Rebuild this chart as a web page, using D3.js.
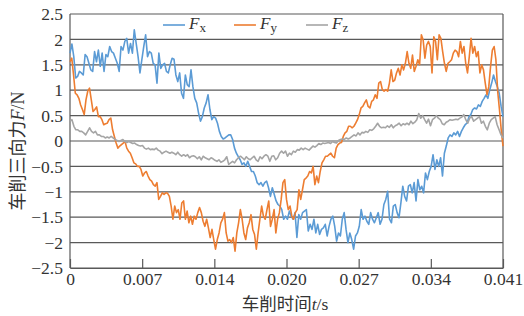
<!DOCTYPE html>
<html>
<head>
<meta charset="utf-8">
<script src="https://cdn.jsdelivr.net/npm/d3@7"></script>
<style>
  body { margin: 0; background: #fff; }
  svg { display: block; }
</style>
</head>
<body>
<svg id="chart" width="524" height="316"></svg>
<script>
// cutting time span (s) and axis ticks
const tMax = 0.041;
const yTicks = [-2.5, -2, -1.5, -1, -0.5, 0, 0.5, 1, 1.5, 2, 2.5];
const xTickLabels = ["0", "0.007", "0.014", "0.020", "0.027", "0.034", "0.041"];

const seriesNames = ["x", "y", "z"];
const seriesColors = ["#5b9bd5", "#ed7d31", "#a5a5a5"];

// three-direction cutting force (N), sampled evenly over 0..tMax
const fx = [
  1.73, 1.91, 1.66, 1.24, 1.27, 1.37, 1.34, 1.30, 1.70, 1.66, 1.53, 1.40, 1.37, 1.76, 1.56, 1.79, 1.47, 1.73, 1.37, 1.70,
  1.66, 1.86, 1.76, 1.73, 1.63, 1.53, 1.37, 1.86, 1.79, 1.96, 2.02, 1.73, 1.92, 1.73, 2.19, 1.92, 1.66, 1.34, 1.60, 1.86,
  2.09, 1.66, 1.76, 1.73, 1.53, 1.50, 1.14, 1.73, 1.43, 1.50, 1.53, 1.37, 1.34, 1.50, 1.63,
  1.61, 1.30, 1.17, 1.34, 0.94, 0.84, 1.30, 1.11, 1.07, 1.40, 1.07, 0.84, 0.75, 0.55, 0.39, 0.48, 0.65, 0.75, 0.91, 0.62,
  0.42, 0.48, 0.45, 0.35, 0.19, 0.09, 0.04, 0.06, 0.09, 0.12, 0.12, 0.03, -0.14, -0.24, -0.31, -0.37, -0.46, -0.43, -0.50, -0.40,
  -0.50, -0.60, -0.60, -0.69, -0.82, -0.86, -0.82, -0.89, -0.82, -0.79, -0.92, -1.09, -0.92, -1.05, -1.18, -1.25,
  -1.28, -1.35, -1.54, -1.48, -1.54, -1.38, -1.48, -1.54, -1.41, -1.90, -1.45, -1.54, -1.41, -1.38, -1.35, -1.77, -1.64, -1.74, -1.54, -1.81,
  -1.64, -1.84, -1.74, -1.71, -1.64, -1.87, -1.68, -1.54, -1.48, -1.68, -1.97, -1.81, -1.87, -1.54, -1.41, -1.74, -2.00, -1.81, -1.94, -2.13,
  -1.87, -1.81, -1.68, -1.35, -1.54, -1.48, -1.58, -1.64, -1.41, -1.54, -1.61, -1.51, -1.41, -1.64, -1.54, -1.25, -1.15,
  -0.99, -1.54, -1.61, -1.28, -1.25, -1.41, -1.51, -1.22, -0.89, -1.09, -1.18, -0.89, -0.86, -1.02, -0.82, -1.18, -0.76, -0.96, -0.89, -1.02,
  -0.63, -0.76, -0.60, -0.50, -0.27, -0.56, -0.37, -0.50, -0.33, -0.69, -0.24, -0.10, 0.06, 0.12, 0.09, 0.16, 0.12, 0.19, 0.09, 0.19,
  0.26, 0.32, 0.35, 0.48, 0.52, 0.62, 0.65, 0.63, 0.71, 0.68, 0.78, 0.84, 0.91, 0.84, 1.01, 1.14, 1.30, 1.17, 1.07, 0.94,
  0.68, 0.48
];
const fy = [
  1.56, 1.63, 1.30, 0.94, 0.91, 0.84, 0.71, 0.62, 0.52, 0.81, 0.98, 1.04, 0.81, 0.58, 0.62, 0.67, 0.48, 0.48, 0.42, 0.32,
  0.34, 0.35, 0.42, 0.45, 0.22, 0.09, -0.04, -0.14, -0.10, -0.07, -0.04, -0.01, -0.14, -0.20, -0.24, -0.33, -0.43, -0.45, -0.50, -0.50,
  -0.56, -0.69, -0.63, -0.60, -0.69, -0.76, -0.79, -0.86, -0.89, -0.82, -1.15, -1.09, -1.02, -1.05, -1.02, -1.03, -1.09, -1.28, -1.54,
  -1.28, -1.41, -1.35, -1.54, -1.22, -1.18, -1.54, -1.38, -1.61, -1.48, -1.64, -1.48, -1.54, -1.41, -1.31, -1.41, -1.58, -1.68, -1.54, -1.71,
  -1.90, -1.74, -1.94, -2.13, -1.94, -1.81, -1.61, -1.54, -1.41, -1.81, -1.97, -1.94, -2.00, -1.90, -2.17, -1.81, -1.61, -1.35, -1.54, -1.81,
  -1.94, -1.71, -1.61, -1.45, -1.74, -1.84, -2.13, -1.81, -1.54, -1.28, -1.48, -1.54, -1.35, -1.18, -1.68, -1.54, -1.35, -1.81, -1.54, -1.41,
  -1.15,
  -0.82, -0.76, -1.15, -1.35, -1.28, -1.48, -1.54, -1.41, -1.35, -0.96, -1.15, -0.96, -0.76, -0.73, -0.69, -0.60, -0.63, -0.50, -0.86, -0.69,
  -0.82, -0.60, -0.43, -0.37, -0.30, -0.30, -0.27, -0.24, -0.30, -0.33, -0.14, -0.07, -0.04, -0.03, 0.09, 0.16, 0.19, 0.29, 0.29, 0.26,
  0.29, 0.35, 0.42, 0.52, 0.65, 0.68, 0.75, 0.81, 0.68, 0.65, 0.78, 0.81, 0.91, 0.84, 1.14, 1.17, 1.01, 0.98, 1.01,
  0.98, 1.14, 1.40, 1.17, 1.20, 1.34, 1.43, 1.30, 1.50, 1.40, 1.53, 1.76, 1.53, 1.43, 1.69, 1.37, 1.47, 1.60, 1.50, 2.09,
  1.99, 1.63, 1.89, 1.96, 1.86, 1.34, 2.05, 1.96, 1.60, 2.09, 2.02, 1.76, 1.53, 1.37, 1.53, 1.56, 1.60, 1.73, 1.79, 1.76,
  1.66, 1.96, 1.73, 1.86, 1.53, 1.34, 1.66, 2.02, 1.73, 1.86, 1.66, 1.76, 1.34, 1.50, 1.40, 1.14, 0.91, 1.07, 1.47, 1.79,
  1.86, 1.60, 0.98, 0.62, 0.22, -0.10
];
const fz = [
  0.39, 0.42, 0.29, 0.22, 0.22, 0.19, 0.19, 0.16, 0.12, 0.19, 0.26, 0.19, 0.16, 0.19, 0.12, 0.12, 0.09, 0.09, 0.06, 0.08,
  0.06, 0.09, 0.06, 0.03, 0.01, -0.01, 0.01, 0.03, -0.01, -0.03, -0.01, -0.03, -0.05, -0.04, -0.07, -0.09, -0.10, -0.09, -0.14, -0.16,
  -0.14, -0.17, -0.16, -0.17, -0.14, -0.18, -0.20, -0.25, -0.22, -0.20, -0.22, -0.24, -0.22, -0.24, -0.27,
  -0.22, -0.27, -0.30, -0.27, -0.30, -0.27, -0.33, -0.30, -0.29, -0.31, -0.35, -0.31, -0.37, -0.30, -0.33, -0.35, -0.37, -0.33, -0.35, -0.38,
  -0.40, -0.37, -0.42, -0.40, -0.37, -0.31, -0.46, -0.43, -0.40, -0.43, -0.37, -0.33, -0.30, -0.33, -0.37, -0.31, -0.35, -0.37, -0.33, -0.30,
  -0.37, -0.40, -0.31, -0.35, -0.30, -0.27, -0.30, -0.40, -0.30, -0.29, -0.37, -0.33,
  -0.24, -0.20, -0.24, -0.20, -0.30, -0.24, -0.27, -0.20, -0.22, -0.17, -0.18, -0.14, -0.17, -0.14, -0.16, -0.18, -0.14, -0.10, -0.12, -0.09,
  -0.05, -0.07, -0.04, -0.05, -0.04, -0.03, -0.05, -0.01, -0.03, -0.04, 0.01, 0.03, 0.04, 0.03, 0.06, 0.04, 0.06, 0.09, 0.12, 0.10,
  0.16, 0.12, 0.17, 0.16, 0.19, 0.17, 0.22, 0.21, 0.24, 0.29, 0.35, 0.29, 0.26, 0.27,
  0.26, 0.30, 0.27, 0.32, 0.26, 0.30, 0.32, 0.35, 0.30, 0.34, 0.32, 0.35, 0.32, 0.39, 0.34, 0.37, 0.42, 0.54, 0.45, 0.50,
  0.42, 0.35, 0.43, 0.30, 0.42, 0.45, 0.50, 0.45, 0.42, 0.34, 0.32, 0.37, 0.39, 0.42, 0.41, 0.42, 0.43, 0.42, 0.45, 0.47,
  0.52, 0.42, 0.35, 0.45, 0.48, 0.39, 0.42, 0.45, 0.48, 0.35, 0.39, 0.29, 0.22, 0.35, 0.42, 0.45, 0.48, 0.32, 0.22, 0.12,
  0.06
];

const svg = d3.select("#chart");
const margin = { left: 70, right: 21, top: 14, bottom: 48 };
const W = +svg.attr("width"), H = +svg.attr("height");

const x = d3.scaleLinear().domain([0, tMax]).range([margin.left, W - margin.right]);
const y = d3.scaleLinear().domain([-2.5, 2.5]).range([H - margin.bottom, margin.top]);

const gridColor = "#595959";
const serif = "'Liberation Serif', 'DejaVu Serif', serif";
const cjk = "'Noto Sans CJK SC', 'Noto Sans', sans-serif";

// horizontal grid lines
svg.append("g")
  .selectAll("line")
  .data(yTicks)
  .join("line")
  .attr("x1", x(0)).attr("x2", x(tMax))
  .attr("y1", d => y(d)).attr("y2", d => y(d))
  .attr("stroke", gridColor)
  .attr("stroke-width", 1.2);

// left axis and right border
svg.append("line")
  .attr("x1", x(0)).attr("x2", x(0))
  .attr("y1", y(2.5)).attr("y2", y(-2.5))
  .attr("stroke", gridColor).attr("stroke-width", 1.2);
svg.append("line")
  .attr("x1", x(tMax)).attr("x2", x(tMax))
  .attr("y1", y(2.5)).attr("y2", y(-2.5))
  .attr("stroke", gridColor).attr("stroke-width", 1.2);

// y axis labels
const yAxis = svg.append("g")
  .attr("transform", `translate(${margin.left},0)`)
  .call(d3.axisLeft(y).tickValues(yTicks).tickSize(0).tickPadding(7).tickFormat(d3.format("~g")));
yAxis.select(".domain").remove();

// x axis, ticks pointing up into the plot
const xTickVals = xTickLabels.map((_, i) => i * tMax / 6);
const xAxis = svg.append("g")
  .attr("transform", `translate(0,${y(-2.5)})`)
  .call(d3.axisBottom(x).tickValues(xTickVals).tickSizeInner(-9).tickSizeOuter(0).tickPadding(5)
    .tickFormat((d, i) => xTickLabels[i]));
xAxis.select(".domain").attr("stroke", gridColor).attr("stroke-width", 1.2);
xAxis.selectAll(".tick line").attr("stroke", gridColor).attr("stroke-width", 1.2);

[yAxis, xAxis].forEach(a => {
  a.attr("font-family", serif).attr("font-size", 17.5);
  a.selectAll("text").attr("fill", "#333");
});

// series lines
const series = [fx, fy, fz];
const line = d3.line()
  .x((d, i, arr) => x(i * tMax / (arr.length - 1)))
  .y(d => y(d));

series.forEach((vals, k) => {
  svg.append("path")
    .datum(vals)
    .attr("fill", "none")
    .attr("stroke", seriesColors[k])
    .attr("stroke-width", 1.6)
    .attr("stroke-linejoin", "round")
    .attr("d", line);
});

// legend
const legendX = [163, 234, 306];
const legend = svg.append("g");
seriesNames.forEach((name, k) => {
  const g = legend.append("g").attr("transform", `translate(${legendX[k]},25)`);
  g.append("line")
    .attr("x1", 0).attr("x2", 22)
    .attr("stroke", seriesColors[k]).attr("stroke-width", 1.6);
  const t = g.append("text")
    .attr("x", 26).attr("y", 3.5)
    .attr("font-family", serif)
    .attr("fill", "#333");
  t.append("tspan").attr("font-style", "italic").attr("font-size", 17).text("F");
  t.append("tspan").attr("font-size", 13).attr("dy", 3).text(name);
});

// axis titles
const xt = svg.append("text")
  .attr("x", 285).attr("y", 310)
  .attr("text-anchor", "middle")
  .attr("fill", "#333")
  .attr("font-size", 17.5);
xt.append("tspan").attr("font-family", cjk).text("车削时间");
xt.append("tspan").attr("font-family", serif).attr("font-style", "italic").text("t");
xt.append("tspan").attr("font-family", serif).text("/s");

const yt = svg.append("text")
  .attr("transform", "translate(24,151) rotate(-90)")
  .attr("text-anchor", "middle")
  .attr("fill", "#333")
  .attr("font-size", 18);
yt.append("tspan").attr("font-family", cjk).text("车削三向力");
yt.append("tspan").attr("font-family", serif).attr("font-style", "italic").text("F");
yt.append("tspan").attr("font-family", serif).text("/N");
</script>
</body>
</html>
